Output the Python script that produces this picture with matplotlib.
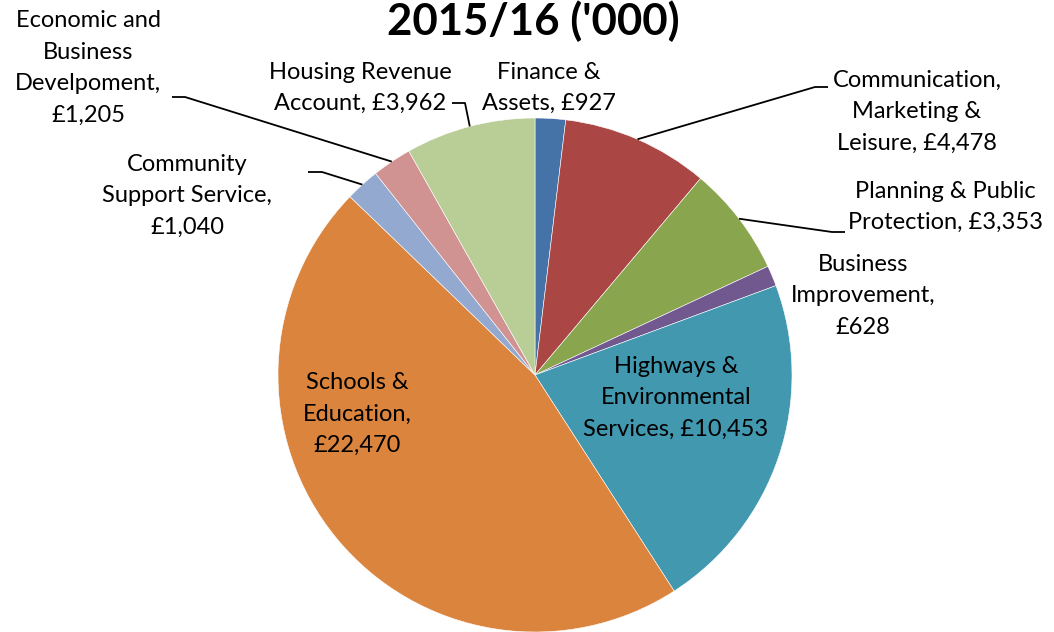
import numpy as np
import matplotlib.pyplot as plt

# spend by service area, 2015/16 (£'000), clockwise from the top
services = ['Finance &\nAssets', 'Communication,\nMarketing &\nLeisure',
            'Planning & Public\nProtection', 'Business\nImprovement,',
            'Highways &\nEnvironmental\nServices', 'Schools &\nEducation,',
            'Community\nSupport Service,', 'Economic and\nBusiness\nDevelpoment,',
            'Housing Revenue\nAccount']
values = [927, 4478, 3353, 628, 10453, 22470, 1040, 1205, 3962]
colours = ['#4572A7', '#AA4643', '#89A54E', '#71588F', '#4198AF',
           '#DB843D', '#93A9D0', '#D09392', '#B9CD97']
# how the value joins the name in each label
value_sep = [', ', ', ', ', ', '\n', ', ', '\n', '\n', '\n', ', ']

# label centre (pixels) and optional leader elbow (pixels)
px_scale = 257.0
cx, cy = 535.0, 375.0
label_pos = [(549, 88), (917, 112), (945, 207), (863, 296), (676, 398),
             (357, 414), (187, 196), (88, 68), (360, 88)]
elbows = [None, [(828, 87), (815, 87)], [(845, 232), (832, 232)], None, None,
          None, [(308, 172), (322, 172)], [(172, 97), (185, 97)],
          [(452, 103), (465, 103)]]

def to_data(p):
    return ((p[0] - cx) / px_scale, (cy - p[1]) / px_scale)

plt.rcParams['font.family'] = ['Lato', 'DejaVu Sans']

fig = plt.figure(figsize=(10.54, 6.32), dpi=100)
ax = fig.add_axes([0, 0, 1, 1])
wedges, _ = ax.pie(values, colors=colours, startangle=90, counterclock=False,
                   radius=1, center=(0, 0),
                   wedgeprops=dict(edgecolor='white', linewidth=0.4))
ax.set_xlim(-cx / px_scale, (1054 - cx) / px_scale)
ax.set_ylim(-(632 - cy) / px_scale, cy / px_scale)
ax.set_aspect('auto')
ax.axis('off')

for i, w in enumerate(wedges):
    txt = services[i] + value_sep[i] + '£{:,}'.format(values[i])
    x, y = to_data(label_pos[i])
    ax.text(x, y, txt, ha='center', va='center', multialignment='center',
            fontsize=17, linespacing=1.62, color='black')
    if elbows[i] is not None:
        mid = np.deg2rad((w.theta1 + w.theta2) / 2)
        edge = (np.cos(mid), np.sin(mid))
        p1 = to_data(elbows[i][0])
        p2 = to_data(elbows[i][1])
        ax.plot([p1[0], p2[0], edge[0]], [p1[1], p2[1], edge[1]],
                color='black', lw=1.3, solid_capstyle='butt')

x, y = to_data((533, 21))
ax.text(x, y, "2015/16 ('000)", ha='center', va='center', fontsize=31.5,
        fontweight='bold')

fig.savefig('out.png', dpi=100)
